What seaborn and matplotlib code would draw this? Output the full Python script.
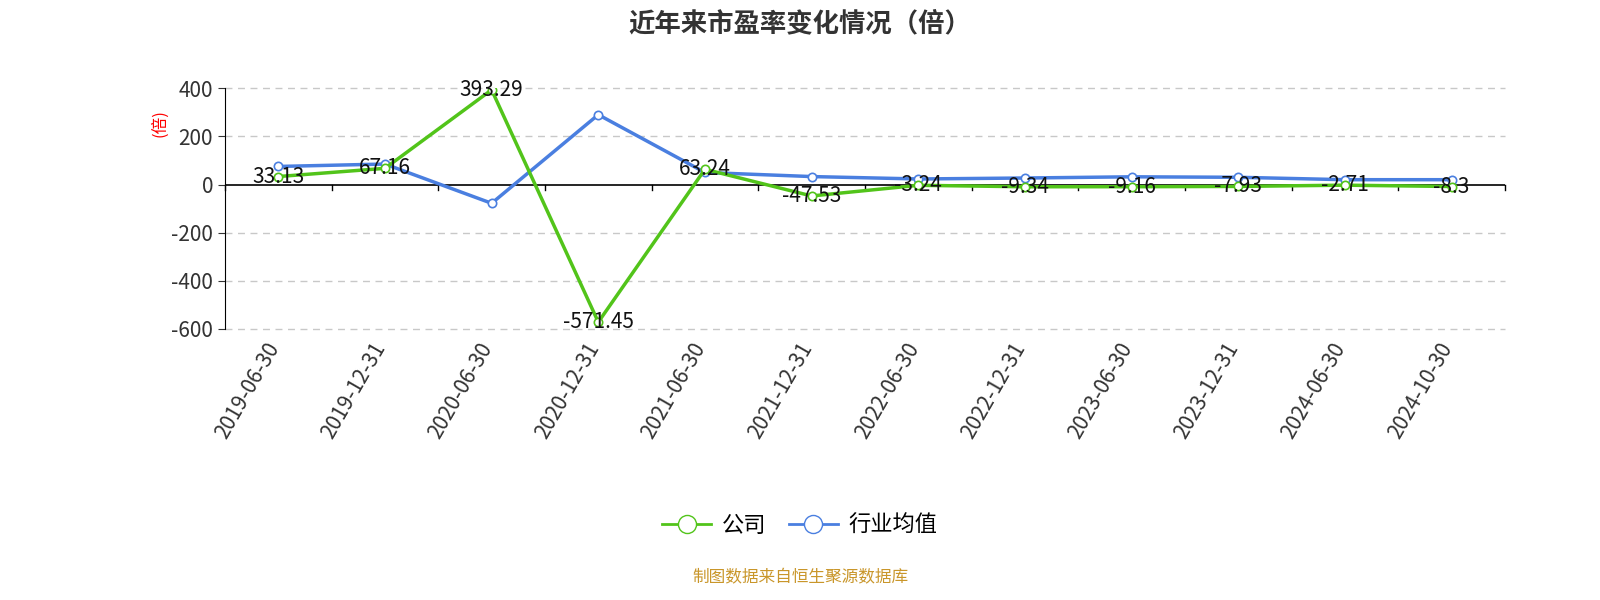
import matplotlib
matplotlib.use("Agg")
import matplotlib.pyplot as plt
import seaborn as sns
import pandas as pd
from matplotlib.lines import Line2D

plt.rcParams["font.family"] = ["Noto Sans CJK SC", "DejaVu Sans"]
plt.rcParams["axes.unicode_minus"] = False

dates = ["2019-06-30", "2019-12-31", "2020-06-30", "2020-12-31", "2021-06-30", "2021-12-31",
         "2022-06-30", "2022-12-31", "2023-06-30", "2023-12-31", "2024-06-30", "2024-10-30"]
company = [33.13, 67.16, 393.29, -571.45, 63.24, -47.53, -3.24, -9.34, -9.16, -7.93, -2.71, -8.3]
industry = [75, 85, -78, 290, 50, 33, 23, 27, 32, 30, 20, 20]

green = "#52c41a"
blue = "#4a7fe0"

df = pd.DataFrame({"x": range(len(dates)), "公司": company, "行业均值": industry})

fig = plt.figure(figsize=(16, 6), dpi=100)
ax = fig.add_axes([0.1406, 0.4517, 0.8, 0.4013])

for col, c in [("行业均值", blue), ("公司", green)]:
    sns.lineplot(data=df, x="x", y=col, ax=ax, color=c, linewidth=2.5,
                 marker="o", markersize=6, markerfacecolor="white",
                 markeredgecolor=c, markeredgewidth=1.2, zorder=3)

for i, v in enumerate(company):
    ax.text(i, v, f"{v:g}", ha="center", va="center", fontsize=15, color="#111", zorder=4)

ax.set_xlim(-0.5, len(dates) - 0.5)
ax.set_ylim(-600, 400)
ax.set_yticks(range(-600, 401, 200))
ax.tick_params(axis="y", labelsize=15, colors="#333", length=5)
for y in range(-600, 401, 200):
    if y != 0:
        ax.axhline(y, color="#c8c8c8", linestyle=(0, (5, 4)), linewidth=1, zorder=0, clip_on=False)
ax.axhline(0, color="black", linewidth=1.2, zorder=2)

ax.set_xticks([])
for i in range(len(dates) + 1):
    ax.plot([i - 0.5, i - 0.5], [0, -22], color="black", linewidth=1, clip_on=False, zorder=2)
for i, d in enumerate(dates):
    ax.text(i + 0.05, -640, d, rotation=60, ha="right", va="top", fontsize=15, color="#333")

for s in ["top", "right", "bottom"]:
    ax.spines[s].set_visible(False)
ax.spines["left"].set_color("black")
ax.set_xlabel("")
ax.set_ylabel("")
fig.text(0.1, 0.795, "(倍)", color="red", rotation=90, fontsize=12, ha="center", va="center")

fig.text(0.5, 0.96, "近年来市盈率变化情况（倍）", ha="center", va="center",
         fontsize=19, fontweight="bold", color="#333")

handles = [Line2D([], [], color=green, linewidth=2, marker="o", markersize=13,
                  markerfacecolor="white", markeredgecolor=green),
           Line2D([], [], color=blue, linewidth=2, marker="o", markersize=13,
                  markerfacecolor="white", markeredgecolor=blue)]
fig.legend(handles, ["公司", "行业均值"], loc="center", bbox_to_anchor=(0.5, 0.125),
           ncol=2, frameon=False, fontsize=16, handlelength=2.2, columnspacing=1.0,
           handletextpad=0.5)

fig.text(0.5, 0.037, "制图数据来自恒生聚源数据库", ha="center", va="center",
         fontsize=12, color="#c9962a")

fig.savefig("out.png", dpi=100)
